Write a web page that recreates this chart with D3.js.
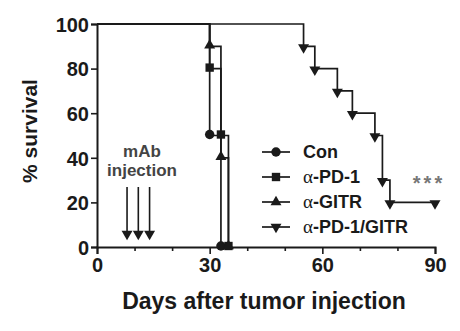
<!DOCTYPE html>
<html lang='en'>
<head>
    <meta charset='UTF-8'>
    <title>survival</title>
    <style>
        body { margin: 0; background: #fff; }
        text { font-family: 'Liberation Sans', Arial, sans-serif; font-weight: bold; fill: #1a1a1a; }
    </style>
</head>
<body>
    <div id='anchor'></div>
    <script src='https://cdnjs.cloudflare.com/ajax/libs/d3/7.8.5/d3.min.js'></script>
    <script>
        // survival steps: [day, % survival]
        const con = [[0, 100], [30, 50], [33, 0]];
        const pd1 = [[0, 100], [30, 80], [33, 50], [35, 0]];
        const gitr = [[0, 100], [30, 90], [33, 40], [35, 0]];
        const combo = [[0, 100], [55, 90], [58, 80], [64, 70], [68, 60], [74, 50], [76, 30], [78, 20], [90, 20]];
        const injectionDays = [8, 11, 14];
        const xTicks = [0, 30, 60, 90];
        const xMinorTicks = [10, 20, 40, 50, 70, 80];
        const yTicks = [0, 20, 40, 60, 80, 100];
        const legendNames = [['', 'Con'], ['α', '-PD-1'], ['α', '-GITR'], ['α', '-PD-1/GITR']];

        const W = 460, H = 331;
        const x = d3.scaleLinear().domain([0, 90]).range([97, 435]);
        const y = d3.scaleLinear().domain([0, 100]).range([247, 24]);

        const svg = d3.select('#anchor').append('svg')
            .attr('width', W).attr('height', H);

        const ink = '#1a1a1a';
        const down = d3.symbol().type(d3.symbolTriangle).size(52);
        const groups = [
            { data: con, sym: d3.symbol().type(d3.symbolCircle).size(70)(), rot: 0 },
            { data: pd1, sym: d3.symbol().type(d3.symbolSquare).size(70)(), rot: 0 },
            { data: gitr, sym: down(), rot: 0 },
            { data: combo, sym: down(), rot: 180 }
        ];

        // axes
        svg.append('g').attr('transform', `translate(0,${y(0)})`)
            .call(d3.axisBottom(x).tickValues(xTicks).tickSize(7).tickPadding(4).tickFormat(d3.format('d')));
        svg.append('g').attr('transform', `translate(0,${y(0)})`)
            .call(d3.axisBottom(x).tickValues(xMinorTicks).tickSize(4).tickFormat(''))
            .select('.domain').remove();
        const yAxis = svg.append('g').attr('transform', `translate(${x(0)},0)`)
            .call(d3.axisLeft(y).tickValues(yTicks).tickSize(6).tickPadding(2));
        svg.selectAll('.domain').attr('stroke', ink).attr('stroke-width', 2);
        svg.selectAll('.tick line').attr('stroke', ink).attr('stroke-width', 1.6);
        svg.selectAll('.tick text').attr('font-size', 20).attr('fill', ink)
            .style('font-family', "'Liberation Sans', Arial, sans-serif").style('font-weight', 'bold');
        yAxis.selectAll('.tick text').attr('dy', '0.36em');

        // curves
        const line = d3.line().x(d => x(d[0])).y(d => y(d[1])).curve(d3.curveStepAfter);
        groups.forEach(g => {
            svg.append('path').datum(g.data).attr('d', line)
                .attr('fill', 'none').attr('stroke', ink).attr('stroke-width', 1.7);
        });
        groups.forEach(g => {
            svg.append('g').selectAll('path').data(g.data.slice(1)).join('path')
                .attr('d', g.sym)
                .attr('transform', d => `translate(${x(d[0])},${y(d[1]) + (g.rot ? 1 : -1)}) rotate(${g.rot})`)
                .attr('fill', ink);
        });

        // injection arrows
        svg.append('text').attr('x', 142).attr('y', 157).attr('text-anchor', 'middle')
            .attr('font-size', 17).attr('fill', '#444').style('fill', '#444').text('mAb');
        svg.append('text').attr('x', 142).attr('y', 176).attr('text-anchor', 'middle')
            .attr('font-size', 17).attr('fill', '#444').style('fill', '#444').text('injection');
        const arr = svg.append('g').selectAll('g').data(injectionDays).join('g');
        arr.append('line')
            .attr('x1', d => x(d)).attr('x2', d => x(d))
            .attr('y1', 187).attr('y2', 232)
            .attr('stroke', ink).attr('stroke-width', 1.6);
        arr.append('path').attr('d', down())
            .attr('transform', d => `translate(${x(d)},234) rotate(180)`)
            .attr('fill', ink);

        // legend
        const leg = svg.append('g').selectAll('g').data(groups).join('g')
            .attr('transform', (d, i) => `translate(276,${152 + i * 25})`);
        leg.append('line').attr('x1', -14).attr('x2', 14)
            .attr('stroke', ink).attr('stroke-width', 1.7);
        leg.append('path').attr('d', d => d.sym)
            .attr('transform', d => `rotate(${d.rot})`).attr('fill', ink);
        const lt = leg.append('text').attr('x', 27).attr('dy', '0.36em').attr('font-size', 18);
        lt.append('tspan').style('font-family', "'Liberation Serif', 'Times New Roman', serif")
            .style('font-weight', 'normal').attr('font-size', 19).text((d, i) => legendNames[i][0]);
        lt.append('tspan').text((d, i) => legendNames[i][1]);

        svg.append('text').attr('x', 429).attr('y', 190).attr('text-anchor', 'middle')
            .attr('font-size', 20).attr('letter-spacing', 3).attr('fill', '#777').style('fill', '#777').text('***');

        // titles
        svg.append('text').attr('x', 264).attr('y', 309).attr('text-anchor', 'middle')
            .attr('font-size', 23).text('Days after tumor injection');
        svg.append('text').attr('transform', 'translate(37,131) rotate(-90)').attr('text-anchor', 'middle')
            .attr('font-size', 21).text('% survival');
    </script>
</body>
</html>
